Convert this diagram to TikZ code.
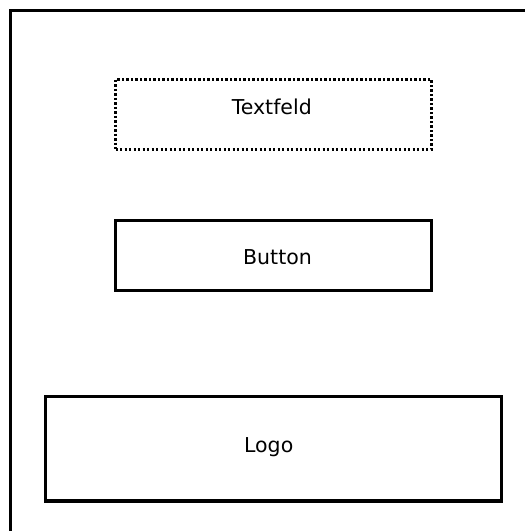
\documentclass[tikz,border=0pt]{standalone}
\usepackage{fontspec}
\setmainfont{DejaVu Sans}
\begin{document}
\begin{tikzpicture}[x=1pt,y=-1pt,
  frameline/.style={line width=3.2pt},
  widget/.style={draw, line width=3.2pt, inner sep=0pt, outer sep=0pt},
  dottedwidget/.style={draw, line width=2.5pt, dash pattern=on 2.3pt off 2.2pt, inner sep=0pt, outer sep=0pt},
  caption/.style={anchor=base, inner sep=0pt, font=\fontsize{20.5}{24}\selectfont}]
  \useasboundingbox (0,0) rectangle (525,531);
  % screen outline, open to the right and bottom
  \coordinate (scrbottom) at (10.7,533);
  \coordinate (scrcorner) at (10.7,10.3);
  \coordinate (scrright) at (527,10.3);
  \draw[frameline] (scrbottom) -- (scrcorner) -- (scrright);
  % widgets
  \node[dottedwidget, minimum width=315.8pt, minimum height=70pt] (textfeld) at (273.4,114.3) {};
  \node[widget, minimum width=316pt, minimum height=70pt] (button) at (273.3,255.3) {};
  \node[widget, minimum width=456pt, minimum height=104.3pt] (logo) at (273.3,448.8) {};
  % captions
  \node[caption] (textfeldlabel) at (271.8,114.3) {Textfeld};
  \node[caption] (buttonlabel) at (277.5,264.3) {Button};
  \node[caption] (logolabel) at (268.7,452.3) {Logo};
\end{tikzpicture}
\end{document}
